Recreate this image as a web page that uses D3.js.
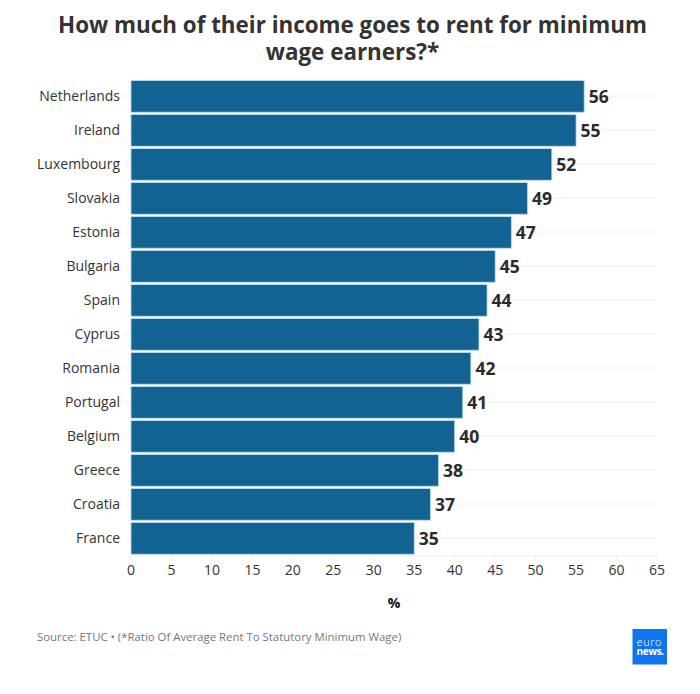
<!DOCTYPE html>
<html><head><meta charset="utf-8">
<script src="https://cdn.jsdelivr.net/npm/d3@7"></script>
<style>html,body{margin:0;padding:0;background:#fff}svg{display:block}text{font-family:"Open Sans",sans-serif}</style>
</head><body><svg id="c" width="700" height="694"></svg>
<script>
const countries=["Netherlands","Ireland","Luxembourg","Slovakia","Estonia","Bulgaria","Spain","Cyprus","Romania","Portugal","Belgium","Greece","Croatia","France"];
const shares=[56,55,52,49,47,45,44,43,42,41,40,38,37,35];
const xTicks=[0,5,10,15,20,25,30,35,40,45,50,55,60,65];
const titleLines=["How much of their income goes to rent for minimum","wage earners?*"];
const sourceText="Source: ETUC • (*Ratio Of Average Rent To Statutory Minimum Wage)";
const svg=d3.select("#c");
const x=d3.scaleLinear().domain([0,65]).range([131,657]);
const y=d3.scaleBand().domain(countries).range([79,555]).paddingInner(0.07).paddingOuter(0.035);
svg.selectAll("text.title").data(titleLines).join("text").attr("class","title")
 .attr("x",352.5).attr("y",(d,i)=>33+i*27).attr("text-anchor","middle")
 .attr("font-size",22.4).attr("font-weight",700).attr("fill","#333").text(d=>d);
svg.selectAll("line.grid").data(countries).join("line").attr("class","grid")
 .attr("x1",124).attr("x2",657).attr("y1",d=>y(d)+y.bandwidth()/2).attr("y2",d=>y(d)+y.bandwidth()/2)
 .attr("stroke","#f0f0f0").attr("stroke-width",1);
svg.append("line").attr("x1",131).attr("x2",657).attr("y1",555.5).attr("y2",555.5).attr("stroke","#f0f0f0");
svg.selectAll("text.cat").data(countries).join("text").attr("class","cat")
 .attr("x",120).attr("y",d=>y(d)+y.bandwidth()/2).attr("dy","0.35em").attr("text-anchor","end")
 .attr("font-size",14).attr("fill","#333").text(d=>d);
svg.selectAll("rect.bar").data(shares).join("rect").attr("class","bar")
 .attr("x",x(0)).attr("y",(d,i)=>y(countries[i])+0.4).attr("width",d=>x(d)-x(0)).attr("height",y.bandwidth())
 .attr("fill","#136392").attr("stroke","#b9dcee").attr("stroke-width",0.8);
svg.selectAll("text.val").data(shares).join("text").attr("class","val")
 .attr("x",d=>x(d)+4.5).attr("y",(d,i)=>y(countries[i])+y.bandwidth()/2+0.5).attr("dy","0.36em")
 .attr("font-size",17.5).attr("font-weight",700).attr("fill","#2b2b2b").text(d=>d);
svg.selectAll("text.tick").data(xTicks).join("text").attr("class","tick")
 .attr("x",d=>x(d)).attr("y",575).attr("text-anchor","middle")
 .attr("font-size",14).attr("fill","#333").text(d=>d);
svg.selectAll("line.xt").data(xTicks).join("line").attr("class","xt")
 .attr("x1",d=>x(d)).attr("x2",d=>x(d)).attr("y1",555).attr("y2",560).attr("stroke","#f0f0f0");
svg.append("text").attr("x",394).attr("y",608).attr("text-anchor","middle")
 .attr("font-size",14).attr("font-weight",700).attr("fill","#111").text("%");
svg.append("text").attr("x",37).attr("y",641).attr("font-size",11.4).attr("fill","#777").text(sourceText);
const logo=svg.append("g");
logo.append("rect").attr("x",632.5).attr("y",629).attr("width",34.5).attr("height",35.5).attr("fill","#0f75ee");
logo.append("text").attr("x",636.5).attr("y",646).attr("font-size",11).attr("font-weight",300).attr("letter-spacing",0.6).attr("fill","#fff").text("euro");
logo.append("text").attr("x",636.5).attr("y",654.5).attr("font-size",10).attr("font-weight",700).attr("letter-spacing",-0.3).attr("fill","#fff").text("news.");
</script></body></html>
